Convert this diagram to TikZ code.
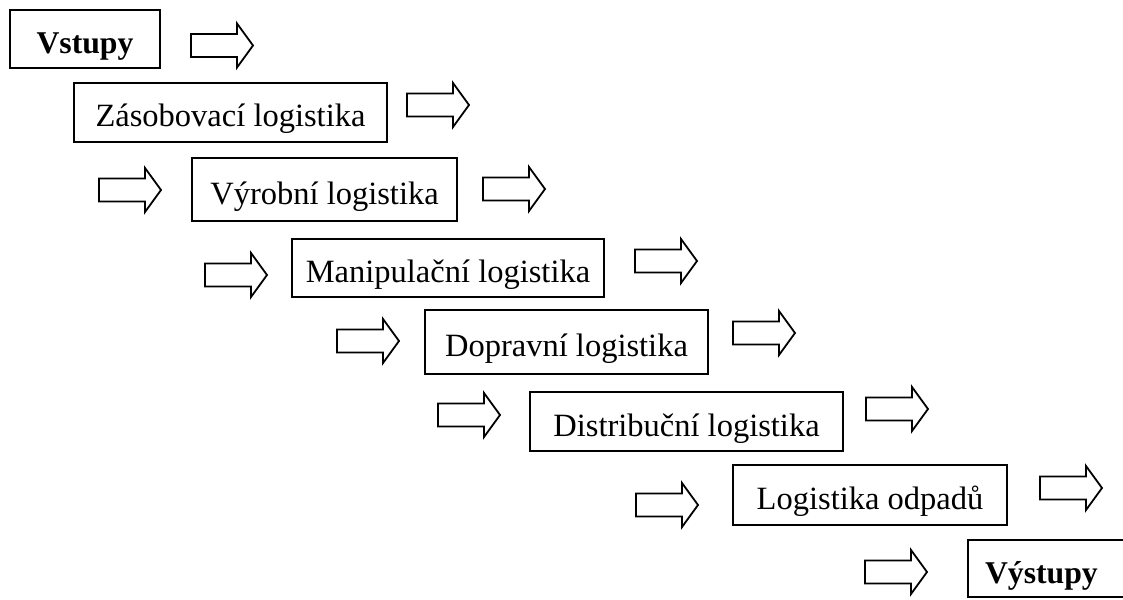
\documentclass[tikz,border=0pt]{standalone}
\usepackage{fontspec}
\setmainfont{Liberation Serif}
\begin{document}
\begin{tikzpicture}[x=1pt,y=-1pt,
  stage/.style={draw, line width=1.8pt, inner sep=0pt, anchor=center,
    text height=29pt, text depth=0pt,
    font=\fontsize{32.5}{38}\selectfont},
  endstage/.style={stage, font=\fontsize{31.7}{38}\selectfont\bfseries},
  arrowline/.style={draw, line width=1.8pt, line join=miter},
  flowarrow/.pic={\path[arrowline] (0,-11.5) -- (46,-11.5) -- (46,-22) -- (62,0)
      -- (46,22) -- (46,11.5) -- (0,11.5) -- cycle;}]
\useasboundingbox (0,0) rectangle (1123,599);
\clip (0,0) rectangle (1123,599);

% logistics stages, stepping down to the right
\node[endstage, minimum width=150pt, minimum height=58pt] (in) at (85,39) {Vstupy};
\node[stage, minimum width=313pt, minimum height=59pt] (zas) at (230.5,112.5) {Zásobovací logistika};
\node[stage, minimum width=265pt, minimum height=63pt] (vyr) at (324.5,189.5) {Výrobní logistika};
\node[stage, minimum width=312pt, minimum height=58pt] (man) at (448,268) {Manipulační logistika};
\node[stage, minimum width=283pt, minimum height=64pt] (dop) at (566.5,342) {Dopravní logistika};
\node[stage, minimum width=313pt, minimum height=59pt] (dis) at (686.5,421.5) {Distribuční logistika};
\node[stage, minimum width=274pt, minimum height=60pt] (odp) at (870,495) {Logistika odpadů};
\node[endstage, minimum width=164pt, minimum height=57pt, text width=150pt, align=left] (out) at (1050,568.5) {\hspace*{10pt}Výstupy};

% block arrows between the stages
\pic (a0) at (191,45.5) {flowarrow};
\pic (a1) at (407,105) {flowarrow};
\pic (a2) at (99,190) {flowarrow};
\pic (a3) at (483,189) {flowarrow};
\pic (a4) at (205,275) {flowarrow};
\pic (a5) at (635,261) {flowarrow};
\pic (a6) at (337,341) {flowarrow};
\pic (a7) at (733,333) {flowarrow};
\pic (a8) at (438,415) {flowarrow};
\pic (a9) at (866,409) {flowarrow};
\pic (a10) at (636,505) {flowarrow};
\pic (a11) at (1040,488) {flowarrow};
\pic (a12) at (865,572) {flowarrow};
\end{tikzpicture}
\end{document}
